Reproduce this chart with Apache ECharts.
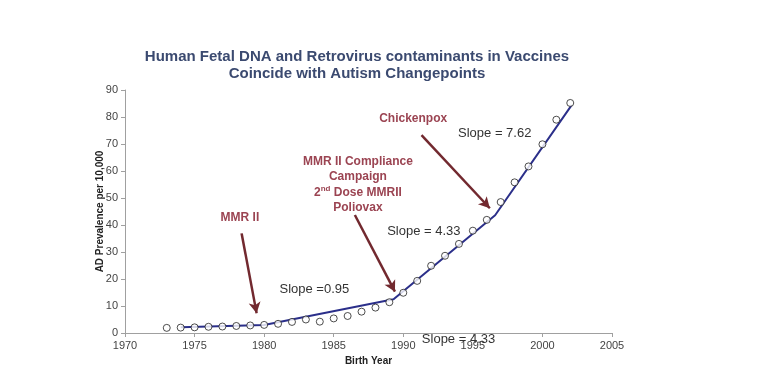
<!DOCTYPE html>
<html><head><meta charset="utf-8">
<script src="https://cdn.jsdelivr.net/npm/echarts@6/dist/echarts.min.js"></script>
<style>html,body{margin:0;padding:0;background:#fff}#c{width:768px;height:380px}</style>
</head><body><div id="c"></div>
<script>
const titleLines = ["Human Fetal DNA and Retrovirus contaminants in Vaccines", "Coincide with Autism Changepoints"];
const xTicks = [1970, 1975, 1980, 1985, 1990, 1995, 2000, 2005];
const yTicks = [0, 10, 20, 30, 40, 50, 60, 70, 80, 90];
const years = [1973,1974,1975,1976,1977,1978,1979,1980,1981,1982,1983,1984,1985,1986,1987,1988,1989,1990,1991,1992,1993,1994,1995,1996,1997,1998,1999,2000,2001,2002];
const prevalence = [1.9,2.0,2.1,2.3,2.4,2.6,2.8,3.0,3.4,4.1,5.0,4.2,5.4,6.3,7.9,9.4,11.4,14.9,19.3,24.9,28.6,33.0,37.9,41.9,48.5,55.8,61.7,69.9,79.0,85.2];
const fitYears = [1974, 1980, 1989.3, 1996.6, 2002.1];
const fitValues = [2.1, 3.0, 12.5, 43.6, 84.4];
// annotations [x, y] in data units
const arrows = [
  [[1978.38, 36.9], [1979.46, 7.3]],
  [[1986.52, 43.7], [1989.4, 15.3]],
  [[1991.31, 73.3], [1996.22, 46.2]]
];
const redLabels = [
  {text: "MMR II", at: [1978.26, 42.7]},
  {text: "MMR II Compliance\nCampaign\n{n|2}{s|nd}{n| Dose MMRII}\nPoliovax", at: [1986.74, 55.0]},
  {text: "Chickenpox", at: [1990.71, 79.3]}
];
const slopeLabels = [
  {text: "Slope = 7.62", at: [1996.57, 74.0]},
  {text: "Slope = 4.33", at: [1991.48, 37.8]},
  {text: "Slope =0.95", at: [1983.61, 16.2]},
  {text: "Slope = 4.33", at: [1993.97, -2.3]}
];
const xName = "Birth Year";
const yName = "AD Prevalence per 10,000";

const chart = echarts.init(document.getElementById('c'), null, {renderer: 'canvas'});
const FONT = 'Liberation Sans, Arial, sans-serif';
const redColor = '#9b4452';
const arrowColor = '#72292f';

const option = {
  animation: false,
  backgroundColor: '#fff',
  title: {
    text: titleLines.join('\n'),
    left: 352, top: 43, textAlign: 'center',
    textStyle: {fontFamily: FONT, fontSize: 15, fontWeight: 'bold', color: '#3b4a70', lineHeight: 17}
  },
  grid: {left: 125, right: 156, top: 90, bottom: 47},
  xAxis: {
    type: 'value', min: xTicks[0], max: xTicks[xTicks.length-1], interval: 5,
    name: xName, nameLocation: 'middle', nameGap: 23, nameMoveOverlap: false,
    nameTextStyle: {fontFamily: FONT, fontSize: 10, fontWeight: 'bold', color: '#222'},
    axisLine: {show: true, lineStyle: {color: '#a0a0a0', width: 1}},
    axisTick: {show: true, length: 4, lineStyle: {color: '#a0a0a0'}},
    axisLabel: {fontFamily: FONT, fontSize: 11, color: '#444', margin: 7, formatter: v => String(v)},
    splitLine: {show: false}
  },
  yAxis: {
    type: 'value', min: yTicks[0], max: yTicks[yTicks.length-1], interval: 10,
    name: yName, nameLocation: 'middle', nameGap: 20, nameRotate: 90, nameMoveOverlap: false,
    nameTextStyle: {fontFamily: FONT, fontSize: 10, fontWeight: 'bold', color: '#222'},
    axisLine: {show: true, lineStyle: {color: '#a0a0a0', width: 1}},
    axisTick: {show: true, length: 4, lineStyle: {color: '#a0a0a0'}},
    axisLabel: {fontFamily: FONT, fontSize: 11, color: '#444', margin: 7},
    splitLine: {show: false}
  },
  series: [
    {
      type: 'line', data: fitYears.map((x, i) => [x, fitValues[i]]),
      symbol: 'none', lineStyle: {color: '#2b2f8a', width: 2}, z: 2,
      markLine: {
        silent: true, symbol: ['none', 'arrow'], symbolSize: [9, 11],
        lineStyle: {color: arrowColor, width: 2.5, type: 'solid'},
        label: {show: false},
        data: arrows.map(a => [{coord: a[0]}, {coord: a[1]}])
      }
    },
    {
      type: 'scatter', data: years.map((x, i) => [x, prevalence[i]]),
      symbol: 'circle', symbolSize: 7,
      itemStyle: {color: '#fff', borderColor: '#222', borderWidth: 1}, z: 3
    },
    {
      type: 'scatter', data: [], clip: false,
      markPoint: {
        silent: true, symbol: 'circle', symbolSize: 0,
        data: redLabels.map(l => ({
          coord: l.at,
          label: {
            show: true, position: 'inside', formatter: l.text, align: 'center',
            fontFamily: FONT, fontSize: 12, fontWeight: 'bold', color: redColor, lineHeight: 15.5,
            rich: {
              n: {fontFamily: FONT, fontSize: 12, fontWeight: 'bold', color: redColor, lineHeight: 15.5},
              s: {fontFamily: FONT, fontSize: 8, fontWeight: 'bold', color: redColor, verticalAlign: 'top', lineHeight: 15.5, padding: [0,0,0,0]}
            }
          }
        })).concat(slopeLabels.slice(0, 3).map(l => ({
          coord: l.at,
          label: {show: true, position: 'inside', formatter: l.text, fontFamily: FONT, fontSize: 13, color: '#333'}
        })))
      }
    }
  ]
};
chart.setOption(option);
const last = slopeLabels[3];
const p = chart.convertToPixel({gridIndex: 0}, last.at);
chart.setOption({
  graphic: [{
    type: 'text', x: p[0], y: p[1],
    style: {text: last.text, fontFamily: FONT, fontSize: 13, fill: '#333', align: 'center', verticalAlign: 'middle'},
    z: 100
  }]
});
</script></body></html>
